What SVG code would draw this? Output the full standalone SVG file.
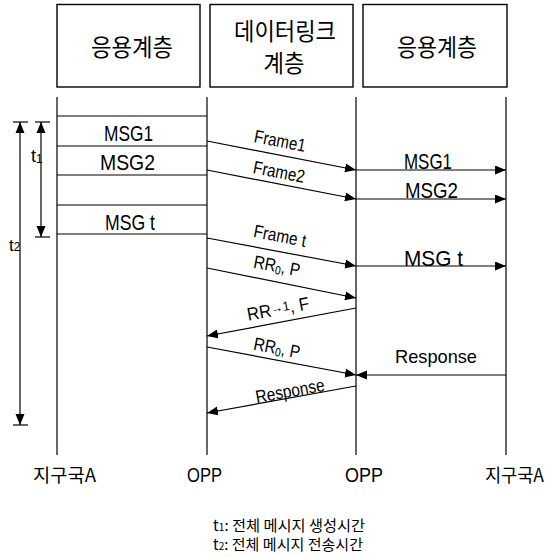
<svg xmlns="http://www.w3.org/2000/svg" width="554" height="558" viewBox="0 0 554 558">
<style>
.box{fill:#fff;stroke:#000;stroke-width:1.4}
.ln{stroke:#000;stroke-width:1.2;fill:none}
.ko{font-family:"Noto Sans CJK KR","Noto Sans",sans-serif;fill:#000}
.la{font-family:"Liberation Sans",Arial,sans-serif;fill:#000}
.arr{stroke:#000;stroke-width:1.2;fill:none;marker-end:url(#ah)}
</style>
<defs>
<marker id="ah" markerUnits="userSpaceOnUse" markerWidth="12" markerHeight="10" refX="11" refY="4.5" orient="auto">
<path d="M0,0 L11,4.5 L0,9 z" fill="#000"/>
</marker>
<marker id="ahs" markerUnits="userSpaceOnUse" markerWidth="12" markerHeight="10" refX="0" refY="4.5" orient="auto">
<path d="M11,0 L0,4.5 L11,9 z" fill="#000"/>
</marker>
</defs>
<rect width="554" height="558" fill="#fff"/>

<g id="box-app-left">
<rect class="box" x="57" y="4.5" width="143" height="82.5"/>
<text class="ko" x="132" y="56" font-size="24" text-anchor="middle" textLength="82" lengthAdjust="spacingAndGlyphs">응용계층</text>
</g>
<g id="box-datalink">
<rect class="box" x="210" y="4.5" width="143" height="82.5"/>
<text class="ko" x="285" y="40" font-size="24" text-anchor="middle" textLength="102" lengthAdjust="spacingAndGlyphs">데이터링크</text>
<text class="ko" x="284" y="72" font-size="24" text-anchor="middle" textLength="41" lengthAdjust="spacingAndGlyphs">계층</text>
</g>
<g id="box-app-right">
<rect class="box" x="363" y="4.5" width="144" height="82.5"/>
<text class="ko" x="437" y="56" font-size="24" text-anchor="middle" textLength="80" lengthAdjust="spacingAndGlyphs">응용계층</text>
</g>

<g id="lifeline-station-left">
<line class="ln" x1="57" y1="97" x2="57" y2="455"/>
<text class="ko" x="33" y="482" font-size="18" textLength="63" lengthAdjust="spacingAndGlyphs">지구국A</text>
</g>
<g id="lifeline-opp-left">
<line class="ln" x1="207" y1="97" x2="207" y2="455"/>
<text class="la" x="187" y="482" font-size="21" textLength="35" lengthAdjust="spacingAndGlyphs">OPP</text>
</g>
<g id="lifeline-opp-right">
<line class="ln" x1="356" y1="97" x2="356" y2="455"/>
<text class="la" x="345" y="482" font-size="21" textLength="38" lengthAdjust="spacingAndGlyphs">OPP</text>
</g>
<g id="lifeline-station-right">
<line class="ln" x1="506" y1="97" x2="506" y2="455"/>
<text class="ko" x="485" y="482" font-size="18" textLength="59" lengthAdjust="spacingAndGlyphs">지구국A</text>
</g>

<g id="messages-left">
<line class="ln" x1="57" y1="116" x2="207" y2="116"/>
<line class="ln" x1="57" y1="146" x2="207" y2="146"/>
<line class="ln" x1="57" y1="175" x2="207" y2="175"/>
<line class="ln" x1="57" y1="205" x2="207" y2="205"/>
<line class="ln" x1="57" y1="234" x2="207" y2="234"/>
<text class="la" x="104" y="141" font-size="22" textLength="49" lengthAdjust="spacingAndGlyphs">MSG1</text>
<text class="la" x="100" y="170" font-size="22" textLength="55" lengthAdjust="spacingAndGlyphs">MSG2</text>
<text class="la" x="105" y="230" font-size="22" textLength="50" lengthAdjust="spacingAndGlyphs">MSG t</text>
</g>

<g id="timing">
<line class="ln" x1="35" y1="122" x2="50" y2="122"/>
<line class="ln" x1="35" y1="237" x2="50" y2="237"/>
<line class="ln" x1="41" y1="122" x2="41" y2="237" style="marker-start:url(#ahs);marker-end:url(#ah)"/>
<line class="ln" x1="13" y1="122" x2="28" y2="122"/>
<line class="ln" x1="13" y1="425" x2="28" y2="425"/>
<line class="ln" x1="20" y1="122" x2="20" y2="425" style="marker-start:url(#ahs);marker-end:url(#ah)"/>
<text class="la" x="31" y="162" font-size="18">t<tspan font-size="12" dy="1">1</tspan></text>
<text class="la" x="9" y="251" font-size="17">t<tspan font-size="12" dy="0">2</tspan></text>
</g>

<g id="connectors">
<line class="arr" x1="207" y1="141" x2="356" y2="170"/>
<line class="arr" x1="207" y1="170" x2="356" y2="199"/>
<line class="arr" x1="207" y1="238" x2="356" y2="266"/>
<line class="arr" x1="207" y1="268" x2="356" y2="298"/>
<line class="arr" x1="356" y1="308" x2="207" y2="336"/>
<line class="arr" x1="207" y1="347" x2="356" y2="375"/>
<line class="arr" x1="356" y1="386" x2="207" y2="413"/>
<line class="arr" x1="356" y1="170" x2="506" y2="170"/>
<line class="arr" x1="356" y1="199" x2="506" y2="199"/>
<line class="arr" x1="356" y1="266" x2="506" y2="266"/>
<line class="arr" x1="506" y1="375" x2="356" y2="375"/>
</g>

<g id="labels">
<text class="la" font-size="18" text-anchor="middle" textLength="52" lengthAdjust="spacingAndGlyphs" transform="translate(280,141) rotate(11)" y="6">Frame1</text>
<text class="la" font-size="18" text-anchor="middle" textLength="52" lengthAdjust="spacingAndGlyphs" transform="translate(279,172) rotate(11)" y="6">Frame2</text>
<text class="la" font-size="18" text-anchor="middle" textLength="53" lengthAdjust="spacingAndGlyphs" transform="translate(280,236) rotate(11)" y="6">Frame t</text>
<text class="la" font-size="18" text-anchor="middle" textLength="47" lengthAdjust="spacingAndGlyphs" transform="translate(277,266) rotate(11)" y="6">RR<tspan font-size="12" dy="2">0</tspan><tspan dy="-2">, P</tspan></text>
<text class="la" font-size="18" text-anchor="middle" textLength="63" lengthAdjust="spacingAndGlyphs" transform="translate(278,309) rotate(-10.6)" y="6">RR<tspan font-size="13" dy="-3">→1</tspan><tspan dy="3">, F</tspan></text>
<text class="la" font-size="18" text-anchor="middle" textLength="47" lengthAdjust="spacingAndGlyphs" transform="translate(277,348) rotate(11)" y="6">RR<tspan font-size="12" dy="2">0</tspan><tspan dy="-2">, P</tspan></text>
<text class="la" font-size="18" text-anchor="middle" textLength="70" lengthAdjust="spacingAndGlyphs" transform="translate(290,391) rotate(-10.3)" y="6">Response</text>
<text class="la" x="436" y="363" font-size="19" text-anchor="middle" textLength="82" lengthAdjust="spacingAndGlyphs">Response</text>
<text class="la" x="404" y="169" font-size="22" textLength="48" lengthAdjust="spacingAndGlyphs">MSG1</text>
<text class="la" x="405" y="198" font-size="22" textLength="53" lengthAdjust="spacingAndGlyphs">MSG2</text>
<text class="la" x="404" y="266" font-size="22" textLength="59" lengthAdjust="spacingAndGlyphs">MSG t</text>
</g>

<g id="legend">
<text class="ko" x="213" y="531" font-size="15" textLength="152" lengthAdjust="spacingAndGlyphs">t<tspan font-size="10">1</tspan>: 전체 메시지 생성시간</text>
<text class="ko" x="213" y="550" font-size="15" textLength="150" lengthAdjust="spacingAndGlyphs">t<tspan font-size="10">2</tspan>: 전체 메시지 전송시간</text>
</g>
</svg>
